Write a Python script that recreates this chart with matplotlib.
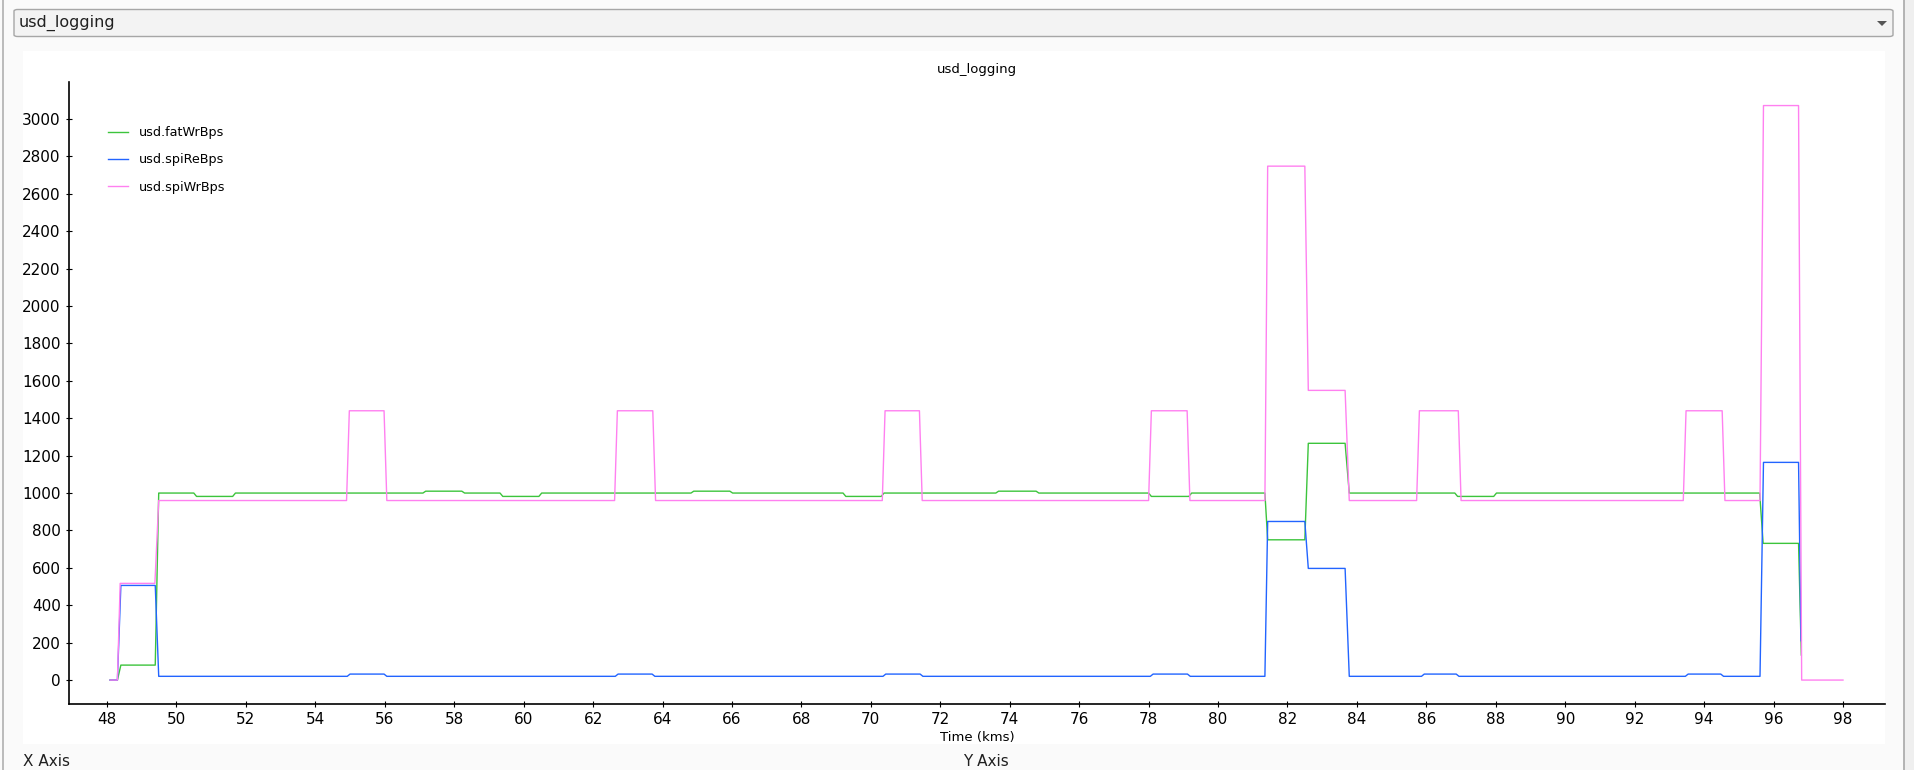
import matplotlib
matplotlib.use("Agg")
import matplotlib.pyplot as plt
from matplotlib.patches import Rectangle, FancyBboxPatch, Polygon

# ---- data ----
title = "usd_logging"
x_label = "Time (kms)"
series_names = ["usd.fatWrBps", "usd.spiReBps", "usd.spiWrBps"]

fat_t = [48.09, 48.30, 48.40, 49.39, 49.49,
         50.50, 50.58, 51.62, 51.70,
         57.10, 57.18, 58.22, 58.30,
         59.32, 59.40, 60.44, 60.52,
         64.82, 64.90, 65.94, 66.02,
         69.20, 69.28, 70.30, 70.38,
         73.60, 73.68, 74.76, 74.84,
         78.00, 78.08, 79.16, 79.24,
         81.35, 81.43, 82.50, 82.60, 83.66, 83.78,
         86.82, 86.90, 87.94, 88.02,
         95.60, 95.70, 96.72, 96.80]
fat_v = [0, 0, 80, 80, 1000,
         1000, 982, 982, 1000,
         1000, 1010, 1010, 1000,
         1000, 982, 982, 1000,
         1000, 1010, 1010, 1000,
         1000, 982, 982, 1000,
         1000, 1010, 1010, 1000,
         1000, 982, 982, 1000,
         1000, 750, 750, 1266, 1266, 1000,
         1000, 982, 982, 1000,
         1000, 731, 731, 134]

re_t = [48.09, 48.30, 48.40, 49.39, 49.49,
        54.92, 55.00, 55.98, 56.06,
        62.64, 62.72, 63.70, 63.78,
        70.35, 70.43, 71.42, 71.50,
        78.05, 78.13, 79.12, 79.20,
        81.35, 81.43, 82.50, 82.60, 83.66, 83.78,
        85.86, 85.94, 86.86, 86.94,
        93.46, 93.54, 94.48, 94.56,
        95.61, 95.71, 96.72, 96.79]
re_v = [0, 0, 506, 506, 20,
        20, 32, 32, 20,
        20, 32, 32, 20,
        20, 32, 32, 20,
        20, 32, 32, 20,
        20, 848, 848, 597, 597, 20,
        20, 32, 32, 20,
        20, 32, 32, 20,
        20, 1164, 1164, 210]

wr_t = [48.09, 48.30, 48.38, 49.38, 49.49,
        54.90, 54.98, 55.98, 56.06,
        62.62, 62.70, 63.72, 63.80,
        70.33, 70.41, 71.40, 71.48,
        78.00, 78.08, 79.11, 79.19,
        81.35, 81.43, 82.50, 82.60, 83.66, 83.78,
        85.72, 85.80, 86.92, 87.00,
        93.40, 93.48, 94.52, 94.60,
        95.61, 95.71, 96.72, 96.81, 98.00]
wr_v = [0, 0, 517, 517, 960,
        960, 1440, 1440, 960,
        960, 1440, 1440, 960,
        960, 1440, 1440, 960,
        960, 1440, 1440, 960,
        960, 2748, 2748, 1549, 1549, 960,
        960, 1440, 1440, 960,
        960, 1440, 1440, 960,
        960, 3072, 3072, 0, 0]

x_ticks = list(range(48, 100, 2))
y_ticks = list(range(0, 3200, 200))

colors = ["#3cc43c", "#2264ff", "#ff80f0"]

# ---- figure ----
W, H = 1914, 770
fig = plt.figure(figsize=(W / 100, H / 100), dpi=100, facecolor="#fafafa")

def fx(px):
    return px / W

def fy(py):
    return 1 - py / H

# right gray strip and borders
fig.patches.append(Rectangle((fx(1904), 0), fx(W - 1904), 1, transform=fig.transFigure,
                             facecolor="#efefef", edgecolor="none", zorder=-10))
fig.add_artist(plt.Line2D([fx(1904), fx(1904)], [0, 1], transform=fig.transFigure,
                          color="#a8a8a8", lw=1.2, zorder=-9))
fig.add_artist(plt.Line2D([fx(3), fx(3)], [0, 1], transform=fig.transFigure,
                          color="#b0b0b0", lw=1.2, zorder=-9))

# combo box
fig.patches.append(FancyBboxPatch((fx(14), fy(36.5)), fx(1893 - 14), 27 / H,
                                  boxstyle="round,pad=0,rounding_size=0.002",
                                  transform=fig.transFigure, facecolor="#f3f3f3",
                                  edgecolor="#a6a6a6", lw=1.0, zorder=-8))
fig.patches.append(Polygon([(fx(1877), fy(21)), (fx(1887), fy(21)), (fx(1882), fy(26))],
                           closed=True, transform=fig.transFigure,
                           facecolor="#555555", edgecolor="none", zorder=-7))

# white plot panel
fig.patches.append(Rectangle((fx(23), fy(744)), fx(1885 - 23), (744 - 51) / H,
                             transform=fig.transFigure, facecolor="white",
                             edgecolor="none", zorder=-8))

fig.text(fx(19), fy(23), "usd_logging", fontsize=11.5, va="center", ha="left",
         color="#202020")

ax = fig.add_axes([fx(69), fy(704), fx(1885 - 69), (704 - 82) / H])
ax.set_zorder(5)
ax.patch.set_alpha(0)

for t, v, c, name in zip([fat_t, re_t, wr_t], [fat_v, re_v, wr_v], colors, series_names):
    ax.plot(t, v, color=c, lw=1.0, label=name)

ax.set_xlim(46.906, 99.21)
ax.set_ylim(-128, 3198)
ax.set_xticks(x_ticks)
ax.set_yticks(y_ticks)
ax.tick_params(axis="both", labelsize=11, length=4, width=0.8, direction="inout",
               colors="black", pad=4)
for s in ["top", "right"]:
    ax.spines[s].set_visible(False)
for s in ["left", "bottom"]:
    ax.spines[s].set_linewidth(1.2)

ax.set_title(title, fontsize=9.5, pad=0, y=1 + (82 - 69) / (704 - 82) - 0.006)
ax.set_xlabel(x_label, fontsize=9.5, labelpad=3)

leg = ax.legend(loc="upper left", bbox_to_anchor=(fx(108), fy(126)),
                bbox_transform=fig.transFigure, frameon=False, fontsize=9.2,
                handlelength=1.6, handletextpad=0.8, labelspacing=1.12,
                borderpad=0, borderaxespad=0)

fig.text(fx(23), fy(761), "X Axis", fontsize=11, va="center", ha="left", color="#202020")
fig.text(fx(963), fy(761), "Y Axis", fontsize=11, va="center", ha="left", color="#202020")

fig.savefig("out.png", dpi=100, facecolor=fig.get_facecolor())
